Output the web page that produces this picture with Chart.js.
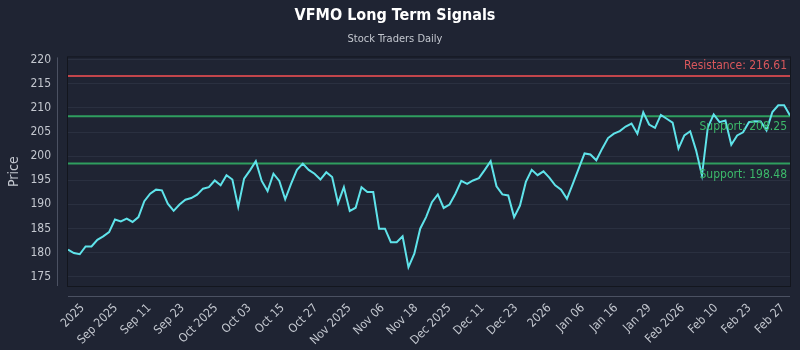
<!DOCTYPE html>
<html>
<head>
<meta charset="utf-8">
<script src="https://cdn.jsdelivr.net/npm/chart.js@4.4.1/dist/chart.umd.min.js"></script>
<style>
  html, body { margin: 0; padding: 0; background: #1f2433; }
  #wrap { width: 800px; height: 350px; }
</style>
</head>
<body>
<div id="wrap"><canvas id="signalChart" width="800" height="350"></canvas></div>
<script>
// closing prices, one per trading session
const prices = [
  180.6, 179.9, 179.65, 181.25, 181.25, 182.65, 183.35, 184.25, 186.85, 186.45,
  187.05, 186.35, 187.35, 190.65, 192.2, 193.05, 192.9, 190.15, 188.65, 189.95,
  190.95, 191.3, 192.0, 193.25, 193.55, 194.95, 193.95, 196.05, 195.15, 189.45,
  195.35, 197.05, 198.95, 194.85, 192.75, 196.35, 194.85, 191.05, 194.25, 197.15,
  198.45, 197.15, 196.35, 195.15, 196.65, 195.65, 190.25, 193.55, 188.6, 189.3,
  193.55, 192.55, 192.55, 184.95, 184.95, 182.15, 182.15, 183.35, 176.95, 179.75,
  184.95, 187.35, 190.45, 192.05, 189.25, 189.95, 192.2, 194.85, 194.25, 194.95,
  195.45, 197.15, 198.95, 193.75, 192.05, 191.85, 187.35, 189.75, 194.65, 197.15,
  196.05, 196.85, 195.55, 193.95, 193.05, 191.15, 194.25, 197.4, 200.55, 200.35,
  199.15, 201.55, 203.75, 204.65, 205.2, 206.15, 206.75, 204.65, 209.1, 206.55,
  205.85, 208.55, 207.75, 206.95, 201.55, 204.3, 205.15, 201.2, 196.0, 205.95,
  208.65, 207.05, 207.4, 202.35, 204.3, 204.95, 207.05, 207.25, 207.2, 205.35,
  209.15, 210.55, 210.55, 208.45
];

const tickLabels = ['2025', 'Sep 2025', 'Sep 11', 'Sep 23', 'Oct 2025', 'Oct 03', 'Oct 15', 'Oct 27',
  'Nov 2025', 'Nov 06', 'Nov 18', 'Dec 2025', 'Dec 11', 'Dec 23', '2026', 'Jan 06', 'Jan 16',
  'Jan 29', 'Feb 2026', 'Feb 10', 'Feb 23', 'Feb 27'];
// where each tick label sits, in session index units
const tickPos = [2.5, 8.18, 13.86, 19.54, 25.22, 30.9, 36.58, 42.26, 47.94, 53.62, 59.3,
  64.98, 70.66, 76.34, 82.02, 87.7, 93.38, 99.06, 104.74, 110.42, 116.1, 121.78];

const yTicks = [175, 180, 185, 190, 195, 200, 205, 210, 215, 220];

const resistance = 216.61;
const supports = [208.25, 198.48];

const points = prices.map((p, i) => ({ x: i, y: p }));

const font = '"DejaVu Sans Condensed", "Noto Sans", sans-serif';

// lines for support / resistance + the framed plot area
const levelsPlugin = {
  id: 'levels',
  beforeDatasetsDraw(chart) {
    const { ctx, chartArea: a, scales: { y } } = chart;
    ctx.save();
    ctx.strokeStyle = '#13161e';
    ctx.lineWidth = 1;
    ctx.strokeRect(a.left - 0.5, a.top - 0.5, a.right - a.left + 1, a.bottom - a.top + 1);
    // offset axis lines
    ctx.strokeStyle = '#4b5162';
    ctx.beginPath();
    ctx.moveTo(a.left - 10.5, a.top);
    ctx.lineTo(a.left - 10.5, a.bottom);
    ctx.moveTo(a.left, a.bottom + 10.5);
    ctx.lineTo(a.right, a.bottom + 10.5);
    ctx.stroke();

    ctx.lineWidth = 2;
    ctx.strokeStyle = '#c2454b';
    ctx.beginPath();
    ctx.moveTo(a.left, y.getPixelForValue(resistance));
    ctx.lineTo(a.right, y.getPixelForValue(resistance));
    ctx.stroke();
    ctx.strokeStyle = '#2f9e5f';
    supports.forEach(s => {
      ctx.beginPath();
      ctx.moveTo(a.left, y.getPixelForValue(s));
      ctx.lineTo(a.right, y.getPixelForValue(s));
      ctx.stroke();
    });
    ctx.restore();
  },
  afterDatasetsDraw(chart) {
    const { ctx, chartArea: a, scales: { y } } = chart;
    ctx.save();
    ctx.font = '12px ' + font;
    ctx.textAlign = 'right';
    ctx.textBaseline = 'middle';
    ctx.fillStyle = '#d9575c';
    ctx.fillText('Resistance: ' + resistance.toFixed(2), a.right - 3, y.getPixelForValue(resistance) - 10);
    ctx.fillStyle = '#3cb86a';
    supports.forEach(s => {
      ctx.fillText('Support: ' + s.toFixed(2), a.right - 3, y.getPixelForValue(s) + 11);
    });
    ctx.restore();
  }
};

new Chart(document.getElementById('signalChart'), {
  type: 'line',
  data: {
    datasets: [{
      label: 'VFMO',
      data: points,
      borderColor: '#5fe3ea',
      borderWidth: 2,
      pointRadius: 0,
      tension: 0,
      fill: false
    }]
  },
  options: {
    responsive: false,
    animation: false,
    layout: { padding: { left: 0, right: 10, top: 0, bottom: 0 } },
    plugins: {
      legend: { display: false },
      tooltip: { enabled: false },
      title: {
        display: true,
        text: 'VFMO Long Term Signals',
        color: '#ffffff',
        font: { family: font, size: 16, weight: 'bold' },
        padding: { top: 6, bottom: 7 }
      },
      subtitle: {
        display: true,
        text: 'Stock Traders Daily',
        color: '#c3c7cf',
        font: { family: font, size: 11 },
        padding: { top: 0, bottom: 12 }
      }
    },
    scales: {
      x: {
        type: 'linear',
        min: 0,
        max: prices.length - 1,
        afterFit(scale) { scale.height = 64; },
        afterBuildTicks(scale) { scale.ticks = tickPos.map(v => ({ value: v })); },
        grid: { display: true, drawOnChartArea: false, tickLength: 10, tickColor: 'transparent' },
        border: { display: false },
        ticks: {
          autoSkip: false,
          minRotation: 45,
          maxRotation: 45,
          padding: 5,
          color: '#c3c7cf',
          font: { family: font, size: 12 },
          callback: (v, i) => tickLabels[i]
        }
      },
      y: {
        min: 173.06,
        max: 220.48,
        afterFit(scale) { scale.width = 68; },
        afterBuildTicks(scale) { scale.ticks = yTicks.map(v => ({ value: v })); },
        grid: { color: '#2a3040', tickLength: 10, tickColor: 'transparent' },
        border: { display: false },
        title: {
          display: true,
          text: 'Price',
          color: '#c3c7cf',
          font: { family: font, size: 14 },
          padding: { top: 6, bottom: 0 }
        },
        ticks: {
          padding: 7,
          color: '#c3c7cf',
          font: { family: font, size: 12 }
        }
      }
    }
  },
  plugins: [levelsPlugin]
});
</script>
</body>
</html>
